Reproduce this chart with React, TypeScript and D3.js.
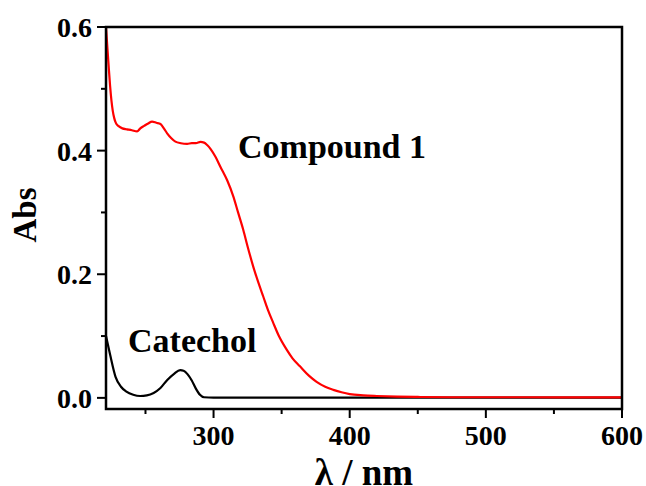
import React from "react";
import * as d3 from "d3";

const compoundWl = [221, 222, 223, 224, 225, 226, 227, 228, 229, 230, 233, 236.5, 240, 243.8, 246.2, 249, 252, 254.8, 258, 261, 263.5, 265.9, 269, 272, 276, 280.6, 284, 287, 290.4, 293, 295.3, 298, 301.4, 305, 310, 314.5, 318, 321.8, 325, 329.2, 333, 336.5, 340, 343.9, 348, 353.7, 358, 363.5, 370, 375.7, 382, 388, 394, 400, 410, 420, 435, 450, 475, 500, 530, 560, 600];
const compoundAbs = [0.6, 0.567, 0.535, 0.505, 0.481, 0.464, 0.453, 0.446, 0.442, 0.44, 0.436, 0.4345, 0.433, 0.431, 0.436, 0.440, 0.444, 0.447, 0.445, 0.443, 0.436, 0.428, 0.420, 0.4145, 0.412, 0.411, 0.412, 0.412, 0.414, 0.413, 0.409, 0.402, 0.39, 0.374, 0.352, 0.326, 0.300, 0.272, 0.245, 0.212, 0.186, 0.164, 0.142, 0.121, 0.100, 0.078, 0.064, 0.051, 0.036, 0.026, 0.018, 0.013, 0.009, 0.006, 0.004, 0.003, 0.002, 0.0015, 0.001, 0.001, 0.001, 0.0008, 0.0008];

const catecholWl = [221, 224, 228, 232, 236, 241, 246, 251, 256, 261, 266, 271, 275.5, 278, 281, 284, 287, 290, 293, 300, 320, 350, 400, 450, 500, 550, 600];
const catecholAbs = [0.1, 0.07, 0.034, 0.018, 0.01, 0.005, 0.003, 0.004, 0.008, 0.016, 0.029, 0.039, 0.045, 0.044, 0.038, 0.028, 0.015, 0.005, 0.001, 0.0005, 0.0005, 0.0005, 0.0005, 0.0005, 0.0005, 0.0005, 0.0005];

const xMajorTicks = [300, 400, 500, 600];
const xMinorTicks = [250, 350, 450, 550];
const yMajorTicks = [0.0, 0.2, 0.4, 0.6];
const yMinorTicks = [0.1, 0.3, 0.5];

const W = 646;
const H = 486;
const left = 106;
const right = 622;
const top = 27;
const bottom = 409;

export default function App() {
  const x = d3.scaleLinear().domain([221, 600]).range([left, right]);
  const y = d3.scaleLinear().domain([-0.018, 0.6]).range([bottom, top]);
  const line = d3
    .line<[number, number]>()
    .x((d) => x(d[0]))
    .y((d) => y(d[1]))
    .curve(d3.curveMonotoneX);
  const red = line(compoundWl.map((w, i) => [w, compoundAbs[i]] as [number, number])) || "";
  const black = line(catecholWl.map((w, i) => [w, catecholAbs[i]] as [number, number])) || "";
  const font = "'Liberation Serif', 'Times New Roman', serif";

  return (
    <svg width={W} height={H} style={{ position: "absolute", left: 0, top: 0, background: "#fff" }}>
      <defs>
        <clipPath id="plot">
          <rect x={left} y={top} width={right - left} height={bottom - top} />
        </clipPath>
      </defs>
      <g clipPath="url(#plot)">
        <path d={black} fill="none" stroke="#000" strokeWidth={2.2} />
        <path d={red} fill="none" stroke="#ff0000" strokeWidth={2.2} />
      </g>
      <rect x={left} y={top} width={right - left} height={bottom - top} fill="none" stroke="#000" strokeWidth={2.5} />
      {xMajorTicks.map((t) => (
        <g key={"xm" + t}>
          <line x1={x(t)} x2={x(t)} y1={bottom} y2={bottom + 9} stroke="#000" strokeWidth={2} />
          <text x={x(t)} y={445} textAnchor="middle" fontFamily={font} fontWeight="bold" fontSize={28}>
            {t}
          </text>
        </g>
      ))}
      {xMinorTicks.map((t) => (
        <line key={"xn" + t} x1={x(t)} x2={x(t)} y1={bottom} y2={bottom + 5} stroke="#000" strokeWidth={2} />
      ))}
      {yMajorTicks.map((t) => (
        <g key={"ym" + t}>
          <line x1={left - 9} x2={left} y1={y(t)} y2={y(t)} stroke="#000" strokeWidth={2} />
          <text x={92} y={y(t) + 10} textAnchor="end" fontFamily={font} fontWeight="bold" fontSize={28}>
            {t.toFixed(1)}
          </text>
        </g>
      ))}
      {yMinorTicks.map((t) => (
        <line key={"yn" + t} x1={left - 5} x2={left} y1={y(t)} y2={y(t)} stroke="#000" strokeWidth={2} />
      ))}
      <text
        transform={`translate(${36},${215}) rotate(-90)`}
        textAnchor="middle"
        fontFamily={font}
        fontWeight="bold"
        fontSize={33}
      >
        Abs
      </text>
      <text x={364} y={485} textAnchor="middle" fontFamily={font} fontWeight="bold" fontSize={37}>
        λ / nm
      </text>
      <text x={238} y={158} fontFamily={font} fontWeight="bold" fontSize={34}>
        Compound 1
      </text>
      <text x={128} y={352} fontFamily={font} fontWeight="bold" fontSize={34}>
        Catechol
      </text>
    </svg>
  );
}
